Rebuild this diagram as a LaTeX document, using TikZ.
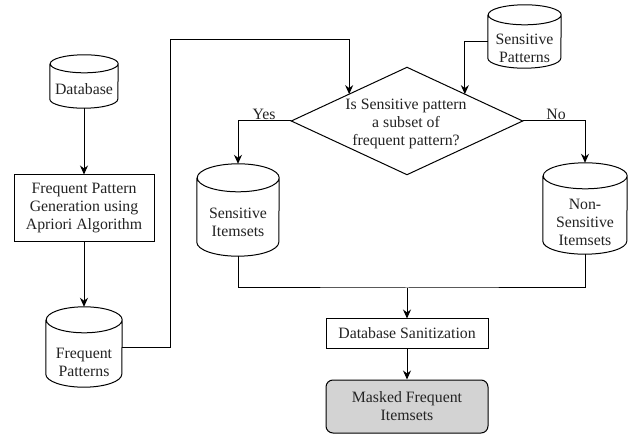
\documentclass[tikz,border=0pt]{standalone}
\usepackage{fontspec}
\setmainfont{Liberation Serif}
\usetikzlibrary{arrows.meta,calc}
\definecolor{maskfill}{RGB}{211,211,211}
\definecolor{txtc}{RGB}{35,35,35}
\tikzset{
  ln/.style={line width=1pt, draw=black},
  arr/.style={ln, -{Stealth[length=9pt,width=8pt]}},
  txtn/.style={align=center, inner sep=0pt, text=txtc, font=\fontsize{15.8}{18}\selectfont},
  boxn/.style={ln, fill=white, align=center, inner sep=0pt, text=txtc, font=\fontsize{15.8}{18}\selectfont},
  lbl/.style={inner sep=0pt, text=txtc, font=\fontsize{15.8}{18}\selectfont}
}
\newcommand\dbcyl[6]{%
  \node[draw=none, inner sep=0pt, minimum width=#4pt, minimum height=#5pt] (#1) at (#2,#3) {};
  \draw[ln, fill=white] ($(#1.north west)+(0,-#6)$) -- ($(#1.south west)+(0,#6)$)
    arc[start angle=180, end angle=360, x radius=#4pt/2, y radius=#6pt]
    -- ($(#1.north east)+(0,-#6)$)
    arc[start angle=0, end angle=180, x radius=#4pt/2, y radius=#6pt]
    arc[start angle=180, end angle=360, x radius=#4pt/2, y radius=#6pt];
}
\begin{document}
\begin{tikzpicture}[x=1pt,y=1pt]
\useasboundingbox (0,0) rectangle (639,439);
\fill[white] (0,0) rectangle (639,439);

% cylinders
\dbcyl{db}{84}{357.5}{68}{53}{9}
\node[txtn] (dbt) at (84,349.5) {Database};

\node[boxn, minimum width=140pt, minimum height=67pt] (fpg) at (84,230.5)
  {Frequent Pattern\\Generation using\\Apriori Algorithm};

\dbcyl{fp}{84}{92}{76}{80}{13}
\node[txtn] (fpt) at (84,77) {Frequent\\Patterns};

\dbcyl{sp}{524.5}{402.5}{73}{63}{10}
\node[txtn] (spt) at (524.5,391) {Sensitive\\Patterns};

% diamond
\node[draw=none, inner sep=0pt, minimum width=231pt, minimum height=107pt] (dia) at (407,318) {};
\draw[ln, fill=white] (dia.north) -- (dia.east) -- (dia.south) -- (dia.west) -- cycle;
\node[txtn] (diat) at (406,315.5) {Is Sensitive pattern\\a subset of\\frequent pattern?};

\dbcyl{si}{238}{229}{82}{92}{14}
\node[txtn] (sit) at (238,216.5) {Sensitive\\Itemsets};

\dbcyl{nsi}{585}{230.5}{84}{91}{13}
\node[txtn] (nsit) at (585,216.5) {Non-\\Sensitive\\Itemsets};

\node[boxn, minimum width=162pt, minimum height=29pt] (ds) at (407,105.5) {Database Sanitization};
\node[boxn, fill=maskfill, rounded corners=7pt, minimum width=162pt, minimum height=53pt] (mfi) at (407,32.5)
  {Masked Frequent\\Itemsets};

% connectors
\draw[arr] (db.south) -- (fpg.north);
\draw[arr] (fpg.south) -- (fp.north);
\coordinate (c1) at (170,399);
\draw[arr] (fp.east) -| (c1) -| ($(dia.west)!0.5!(dia.north)$);
\draw[arr] ([yshift=-5.5pt]sp.west) -| ($(dia.north)!0.5!(dia.east)$);
\draw[arr] (dia.west) -| (si.north);
\draw[arr] (dia.east) -| (nsi.north);
\node[lbl] (yes) at (264,325) {Yes};
\node[lbl] (no) at (556,325) {No};
\coordinate (merge) at (407,151);
\draw[ln] (si.south) |- (merge) -| (nsi.south);
\draw[arr] (merge) -- (ds.north);
\draw[arr] (ds.south) -- (mfi.north);
\end{tikzpicture}
\end{document}
